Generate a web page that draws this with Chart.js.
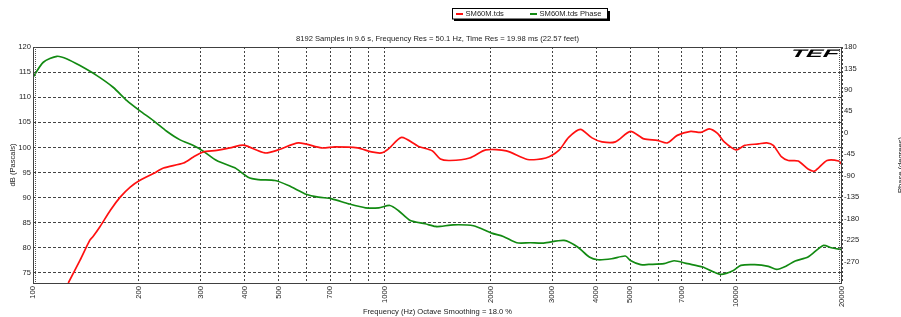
<!DOCTYPE html>
<html><head><meta charset="utf-8">
<script src="https://cdn.jsdelivr.net/npm/chart.js@4.4.0/dist/chart.umd.min.js"></script>
<style>html,body{margin:0;padding:0;background:#fff;overflow:hidden}canvas{display:block}</style>
</head><body>
<canvas id="c" width="901" height="317"></canvas>
<script>
const freqDb = [126,136,145,148,155,166,177,189,201,220,235,268,286,305,333,363,388,401,457,498,569,662,722,838,918,980,1026,1118,1250,1369,1441,1535,1745,1940,2220,2551,2874,3130,3339,3605,3891,4153,4535,5003,5470,5970,6370,6800,7430,7930,8380,8850,9250,10000,10580,11570,12220,12750,13470,14070,15010,16010,16720,18130,19570,20000];
const dbValues = [73,77.5,81.5,82.2,84.2,87.5,90.1,92.1,93.4,94.8,95.9,96.9,98.1,99.1,99.4,99.9,100.4,100.4,98.9,99.5,100.9,99.9,100.1,99.9,99.1,98.9,99.7,102.0,100.2,99.3,97.7,97.4,97.9,99.5,99.3,97.6,97.9,99.4,102.0,103.6,101.9,101.1,101.1,103.2,101.7,101.4,100.9,102.4,103.2,103.0,103.7,102.8,101.1,99.5,100.4,100.7,100.9,100.4,98.1,97.4,97.3,95.7,95.3,97.4,97.3,96.6];
const freqPhase = [100,107,117,125,136,152,169,185,201,220,240,262,286,305,333,375,409,437,488,533,601,648,708,790,883,963,1035,1094,1183,1304,1394,1441,1569,1790,2016,2176,2377,2597,2835,3240,3541,3822,4044,4425,4839,5003,5350,5640,6235,6660,7270,8030,8570,9060,9820,10310,11290,12350,13040,13810,14720,16010,17680,18650,20000];
const phaseValues = [116.5,148,160.5,155,141,120,95.6,67.5,46.6,25.6,3.4,-14.8,-26.7,-38.5,-58.2,-73.5,-93,-98,-100,-110.5,-129.4,-134.8,-138.4,-148.9,-157.3,-157.3,-152.4,-162.9,-183.8,-190.8,-196.4,-196.4,-192.9,-195,-210.3,-217.4,-230.6,-230.6,-231.2,-225.7,-239.6,-260.5,-266.2,-264.1,-258.4,-267.6,-276.6,-276,-274.5,-268.3,-274.5,-281.4,-290.7,-297,-288.6,-278.1,-276.6,-280.2,-286.5,-280.2,-268.9,-260.5,-236.2,-241,-245.2];
const xTicks = [100,200,300,400,500,600,700,800,900,1000,2000,3000,4000,5000,6000,7000,8000,9000,10000,20000];
const xTickLabels = ['100','200','300','400','500','','700','','','1000','2000','3000','4000','5000','','7000','','','10000','20000'];
const dbTicks = [75,80,85,90,95,100,105,110,115,120];
const phaseTicks = [180,135,90,45,0,-45,-90,-135,-180,-225,-270];
const seriesNames = ['SM60M.tds','SM60M.tds Phase'];
const titleText = '8192 Samples in 9.6 s, Frequency Res = 50.1 Hz, Time Res = 19.98 ms (22.57 feet)';
const xTitle = 'Frequency (Hz) Octave Smoothing = 18.0 %';
const yTitle = 'dB (Pascals)';
const y2Title = 'Phase (degrees)';

const FONT = '"Liberation Sans", Arial, sans-serif';
const RED = '#ff1010', GREEN = '#128a12';

const deco = {
  id: 'deco',
  afterDraw(chart) {
    const ctx = chart.ctx, a = chart.chartArea;
    ctx.save();
    // frame
    ctx.strokeStyle = '#404040'; ctx.lineWidth = 1;
    ctx.strokeRect(Math.round(a.left) + 0.5, Math.round(a.top) + 0.5, Math.round(a.right - a.left) - 1, Math.round(a.bottom - a.top));
    // minor dotted ticks along left/right
    ctx.setLineDash([1, 1]); ctx.strokeStyle = '#555';
    ctx.beginPath();
    ctx.moveTo(a.left + 2.5, a.top); ctx.lineTo(a.left + 2.5, a.bottom);
    ctx.moveTo(a.right - 2.5, a.top); ctx.lineTo(a.right - 2.5, a.bottom);
    ctx.stroke();
    ctx.setLineDash([]);
    // title
    ctx.fillStyle = '#222';
    ctx.font = '7.6px ' + FONT;
    ctx.textAlign = 'center'; ctx.textBaseline = 'middle';
    const cx = (a.left + a.right) / 2;
    ctx.fillText(titleText, cx, 38.5);
    ctx.fillText(xTitle, cx, 312);
    // y titles
    ctx.save();
    ctx.translate(13, (a.top + a.bottom) / 2);
    ctx.rotate(-Math.PI / 2);
    ctx.fillText(yTitle, 0, 0);
    ctx.restore();
    ctx.save();
    ctx.translate(897, (a.top + a.bottom) / 2);
    ctx.rotate(-Math.PI / 2);
    ctx.textBaseline = 'top';
    ctx.fillText(y2Title, 0, 0);
    ctx.restore();
    // legend
    ctx.fillStyle = '#000';
    ctx.fillRect(454, 11, 156, 10);
    ctx.fillStyle = '#fff';
    ctx.fillRect(452, 9, 155, 10);
    ctx.strokeStyle = '#000'; ctx.lineWidth = 1;
    ctx.strokeRect(452.5, 8.5, 155, 10.5);
    ctx.lineWidth = 2;
    ctx.strokeStyle = RED;
    ctx.beginPath(); ctx.moveTo(456, 14); ctx.lineTo(463, 14); ctx.stroke();
    ctx.strokeStyle = GREEN;
    ctx.beginPath(); ctx.moveTo(530, 14); ctx.lineTo(537, 14); ctx.stroke();
    ctx.fillStyle = '#222';
    ctx.textAlign = 'left'; ctx.textBaseline = 'middle';
    ctx.fillText(seriesNames[0], 465.5, 14);
    ctx.fillText(seriesNames[1], 539.5, 14);
    // logo
    ctx.save();
    ctx.translate(789, 57);
    ctx.transform(1, 0, -0.6, 1, 0, 0);
    ctx.scale(2.3, 1);
    ctx.font = 'bold 11px ' + FONT;
    ctx.fillStyle = '#000';
    ctx.textAlign = 'left'; ctx.textBaseline = 'alphabetic';
    ctx.fillText('TEF', 0, 0);
    ctx.restore();
    ctx.restore();
  }
};

new Chart(document.getElementById('c'), {
  type: 'line',
  data: {
    datasets: [
      { label: seriesNames[0], data: freqDb.map((f, i) => ({ x: f, y: dbValues[i] })), yAxisID: 'y', borderColor: RED, borderWidth: 1.7, pointRadius: 0, tension: 0.25, fill: false },
      { label: seriesNames[1], data: freqPhase.map((f, i) => ({ x: f, y: phaseValues[i] })), yAxisID: 'y2', borderColor: GREEN, borderWidth: 1.7, pointRadius: 0, tension: 0.25, fill: false }
    ]
  },
  options: {
    responsive: false, animation: false, devicePixelRatio: 1,
    layout: { padding: { top: 47, left: 0, right: 0, bottom: 0 } },
    plugins: { legend: { display: false }, title: { display: false }, tooltip: { enabled: false } },
    scales: {
      x: {
        type: 'logarithmic', min: 100, max: 20000,
        afterBuildTicks: s => { s.ticks = xTicks.map(v => ({ value: v })); },
        afterFit: s => { s.height = 34; },
        grid: { color: '#444', lineWidth: 1, drawTicks: false },
        border: { display: false, dash: [2, 2] },
        ticks: { autoSkip: false, minRotation: 90, maxRotation: 90, padding: 3, color: '#222', font: { family: FONT, size: 7.6 },
          callback: (v) => { const i = xTicks.indexOf(v); return i >= 0 ? xTickLabels[i] : ''; } }
      },
      y: {
        type: 'linear', position: 'left', min: 73, max: 120,
        afterBuildTicks: s => { s.ticks = dbTicks.map(v => ({ value: v })); },
        afterFit: s => { s.width = 33; },
        grid: { color: '#444', lineWidth: 1, drawTicks: false },
        border: { display: false, dash: [3, 2] },
        ticks: { padding: 2, color: '#222', font: { family: FONT, size: 7.6 } }
      },
      y2: {
        type: 'linear', position: 'right', min: -315, max: 180,
        afterBuildTicks: s => { s.ticks = phaseTicks.map(v => ({ value: v })); },
        afterFit: s => { s.width = 59; },
        grid: { drawOnChartArea: false, drawTicks: false },
        border: { display: false },
        ticks: { padding: 2, color: '#222', font: { family: FONT, size: 7.6 } }
      }
    }
  },
  plugins: [deco]
});
</script>
</body></html>
